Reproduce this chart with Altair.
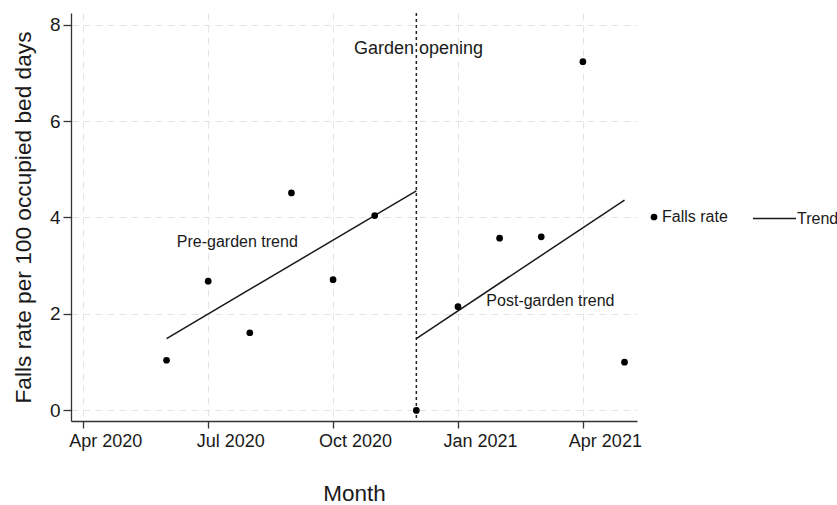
import json
import altair as alt
import pandas as pd

# Monthly falls rate per 100 occupied bed days
months = ["2020-06", "2020-07", "2020-08", "2020-09", "2020-10", "2020-11",
          "2020-12", "2021-01", "2021-02", "2021-03", "2021-04", "2021-05"]
falls_rate = [1.04, 2.68, 1.61, 4.51, 2.71, 4.04, 0.0, 2.15, 3.57, 3.60, 7.23, 1.00]

# Segmented regression trend lines (start and end of each segment)
pre_trend_months = ["2020-06", "2020-12"]
pre_trend_values = [1.49, 4.55]
post_trend_months = ["2020-12", "2021-05"]
post_trend_values = [1.49, 4.36]

# Intervention month
opening_month = "2020-12"

# Annotation anchors (month position as fractional month index, value)
opening_label = ("Garden opening", 11.05, 7.49)
trend_labels = [("Pre-garden trend", 6.70, 3.49), ("Post-garden trend", 14.22, 2.27)]

# Axis ticks
tick_months = ["2020-04", "2020-07", "2020-10", "2021-01", "2021-04"]
tick_labels = ["Apr 2020", "Jul 2020", "Oct 2020", "Jan 2021", "Apr 2021"]
y_ticks = [0, 2, 4, 6, 8]


def month_index(s):
    y, m = map(int, s.split("-"))
    return (y - 2020) * 12 + (m - 1)


points = pd.DataFrame({
    "idx": [month_index(m) for m in months],
    "rate": falls_rate,
    "series": "Falls rate",
})

trend = pd.DataFrame({
    "idx": [month_index(m) for m in pre_trend_months + post_trend_months],
    "rate": pre_trend_values + post_trend_values,
    "segment": ["pre"] * 2 + ["post"] * 2,
    "series": "Trend",
})

opening = pd.DataFrame({"idx": [month_index(opening_month)]})
opening_text = pd.DataFrame({"label": [opening_label[0]], "idx": [opening_label[1]],
                             "rate": [opening_label[2]]})
trend_text = pd.DataFrame({"label": [t[0] for t in trend_labels],
                           "idx": [t[1] for t in trend_labels],
                           "rate": [t[2] for t in trend_labels]})

tick_idx = [month_index(m) for m in tick_months]
label_expr = f"{json.dumps(tick_labels)}[(datum.value - {tick_idx[0]}) / 3]"

FONT = "Liberation Sans"
INK = "#1a1a1a"
AXIS = "#333333"
GRID = "#e4e4e4"

x_scale = alt.Scale(domain=[2.705, 16.30], nice=False, zero=False)
y_scale = alt.Scale(domain=[-0.22, 8.24], nice=False, zero=False)

x_enc = alt.X(
    "idx:Q", scale=x_scale,
    axis=alt.Axis(
        title="Month", values=tick_idx, labelExpr=label_expr,
        labelFontSize=18, labelOffset=22, labelPadding=4, labelFlush=False,
        labelOverlap=False, tickSize=7, titleFontSize=22.5, titlePadding=32,
        grid=True,
    ),
)
y_enc = alt.Y(
    "rate:Q", scale=y_scale,
    axis=alt.Axis(
        title="Falls rate per 100 occupied bed days", values=y_ticks,
        labelFontSize=19, labelPadding=3, tickSize=8, titleFontSize=22.7,
        titlePadding=14, grid=True,
    ),
)

rule = alt.Chart(opening).mark_rule(
    strokeDash=[3, 3], strokeWidth=1.5, color="#222222"
).encode(x=alt.X("idx:Q", scale=x_scale))

lines = alt.Chart(trend).mark_line(strokeWidth=1.5).encode(
    x=x_enc, y=y_enc, detail="segment:N",
    color=alt.Color(
        "series:N", scale=alt.Scale(domain=["Trend"], range=[INK]),
        legend=alt.Legend(
            title=None, orient="none", legendX=681, legendY=183, padding=0,
            symbolType="stroke", symbolSize=1849, symbolStrokeWidth=1.5,
            labelFontSize=16, labelOffset=0, labelColor=INK, labelFont=FONT,
        ),
    ),
)

dots = alt.Chart(points).mark_point(filled=True, size=45, color="#000000", opacity=1).encode(
    x=x_enc, y=y_enc,
    shape=alt.Shape(
        "series:N", scale=alt.Scale(domain=["Falls rate"], range=["circle"]),
        legend=alt.Legend(
            title=None, orient="none", legendX=575, legendY=196, padding=0,
            symbolSize=45, symbolFillColor="#000000", symbolStrokeColor="#000000",
            symbolOpacity=1, labelFontSize=16, labelOffset=0, labelColor=INK,
            labelFont=FONT,
        ),
    ),
)

opening_lbl = alt.Chart(opening_text).mark_text(
    fontSize=18, font=FONT, color=INK, align="center", baseline="middle"
).encode(x=x_enc, y=y_enc, text="label:N")

trend_lbl = alt.Chart(trend_text).mark_text(
    fontSize=16, font=FONT, color=INK, align="center", baseline="middle"
).encode(x=x_enc, y=y_enc, text="label:N")

chart = alt.layer(rule, lines, dots, opening_lbl, trend_lbl).resolve_scale(
    color="independent", shape="independent"
).properties(
    width=566, height=408,
    autosize=alt.AutoSizeParams(type="none"),
    padding={"left": 71, "top": 13, "right": 200, "bottom": 84},
    background="white",
).configure_view(stroke=None).configure_axis(
    labelFont=FONT, titleFont=FONT, labelColor=INK, titleColor=INK,
    titleFontWeight="normal", domainColor=AXIS, tickColor=AXIS,
    domainWidth=1.3, tickWidth=1.3, gridColor=GRID, gridDash=[7, 5],
    gridWidth=1,
).configure_text(font=FONT)

chart.save("out.html", embed_options={"renderer": "svg", "actions": False})
